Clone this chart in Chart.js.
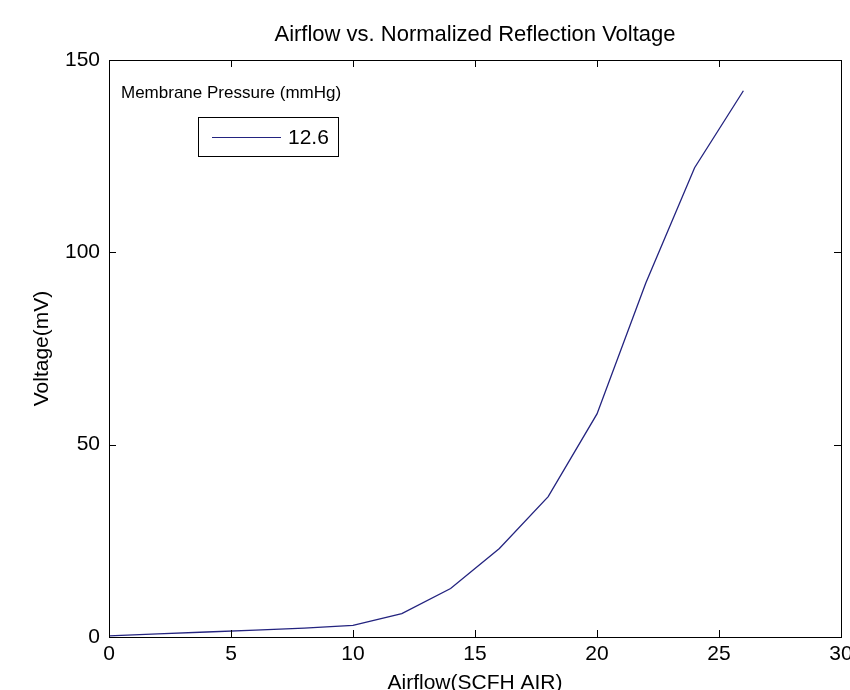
<!DOCTYPE html>
<html>
<head>
<meta charset="utf-8">
<script src="https://cdn.jsdelivr.net/npm/chart.js@4"></script>
<style>
  html, body { margin: 0; padding: 0; background: #fff; }
  #wrap { width: 850px; height: 690px; }
</style>
</head>
<body>
<div id="wrap"><canvas id="c" width="850" height="690"></canvas></div>
<script>
// values
const airflow = [0, 2, 4, 6, 8, 10, 12, 14, 16, 18, 20, 22, 24, 26];
const voltage = [0.3, 0.8, 1.3, 1.8, 2.3, 3.0, 6.1, 12.6, 23.0, 36.5, 58.0, 92.0, 122.0, 142.0];
const xTicks = [0, 5, 10, 15, 20, 25, 30];
const yTicks = [0, 50, 100, 150];
const seriesLabel = '12.6';
const legendTitle = 'Membrane Pressure (mmHg)';
const chartTitle = 'Airflow vs. Normalized Reflection Voltage';

const FONT = '"Liberation Sans", Arial, sans-serif';
const LINE = '#23237f';

// matlab style box with inward ticks, title over the axes, and the legend
const boxPlugin = {
    id: 'matlabBox',
    afterDraw(chart) {
        const ctx = chart.ctx;
        const a = chart.chartArea;
        const xs = chart.scales.x, ys = chart.scales.y;
        const tl = 7;
        ctx.save();
        ctx.strokeStyle = '#000';
        ctx.lineWidth = 1;
        ctx.strokeRect(Math.round(a.left) + 0.5, Math.round(a.top) + 0.5,
            Math.round(a.right - a.left), Math.round(a.bottom - a.top));
        ctx.beginPath();
        xTicks.forEach(v => {
            const px = Math.round(xs.getPixelForValue(v)) + 0.5;
            ctx.moveTo(px, a.bottom); ctx.lineTo(px, a.bottom - tl);
            ctx.moveTo(px, a.top); ctx.lineTo(px, a.top + tl);
        });
        yTicks.forEach(v => {
            const py = Math.round(ys.getPixelForValue(v)) + 0.5;
            ctx.moveTo(a.left, py); ctx.lineTo(a.left + tl, py);
            ctx.moveTo(a.right, py); ctx.lineTo(a.right - tl, py);
        });
        ctx.stroke();

        ctx.fillStyle = '#000';
        ctx.textBaseline = 'middle';
        ctx.textAlign = 'center';
        ctx.font = '22px ' + FONT;
        ctx.fillText(chartTitle, (a.left + a.right) / 2, 35);

        // legend
        ctx.textAlign = 'left';
        ctx.font = '17px ' + FONT;
        ctx.fillText(legendTitle, a.left + 12, 93);
        ctx.strokeRect(198.5, 117.5, 140, 39);
        ctx.strokeStyle = chart.data.datasets[0].borderColor;
        ctx.lineWidth = 1.2;
        ctx.beginPath();
        ctx.moveTo(212, 137.5); ctx.lineTo(281, 137.5);
        ctx.stroke();
        ctx.font = '21px ' + FONT;
        ctx.fillText(chart.data.datasets[0].label, 288, 138);
        ctx.restore();
    }
};

new Chart(document.getElementById('c'), {
    type: 'line',
    data: {
        datasets: [{
            label: seriesLabel,
            data: airflow.map((x, i) => ({ x: x, y: voltage[i] })),
            borderColor: LINE,
            borderWidth: 1.3,
            pointRadius: 0,
            tension: 0,
            fill: false
        }]
    },
    options: {
        responsive: false,
        animation: false,
        layout: { padding: { top: 60, right: 9, left: 0, bottom: 0 } },
        plugins: {
            legend: { display: false },
            tooltip: { enabled: false },
            title: { display: false }
        },
        scales: {
            x: {
                type: 'linear',
                min: 0, max: 30,
                afterBuildTicks(s) { s.ticks = xTicks.map(v => ({ value: v })); },
                afterFit(s) { s.height = 53; s.paddingLeft = 0; s.paddingRight = 0; },
                grid: { display: false, drawTicks: false },
                border: { display: false },
                ticks: { color: '#000', padding: 5, maxRotation: 0, font: { family: FONT, size: 21 } },
                title: {
                    display: true, text: 'Airflow(SCFH AIR)', color: '#000',
                    font: { family: FONT, size: 21 }, padding: { top: 0, bottom: -5.6 }
                }
            },
            y: {
                type: 'linear',
                min: 0, max: 150,
                afterBuildTicks(s) { s.ticks = yTicks.map(v => ({ value: v })); },
                afterFit(s) { s.width = 109; s.paddingTop = 0; s.paddingBottom = 0; },
                grid: { display: false, drawTicks: false },
                border: { display: false },
                ticks: { color: '#000', padding: 9, font: { family: FONT, size: 21 } },
                title: {
                    display: true, text: 'Voltage(mV)', color: '#000',
                    font: { family: FONT, size: 21 }, padding: { top: 29.4, bottom: 0 }
                }
            }
        }
    },
    plugins: [boxPlugin]
});
</script>
</body>
</html>
